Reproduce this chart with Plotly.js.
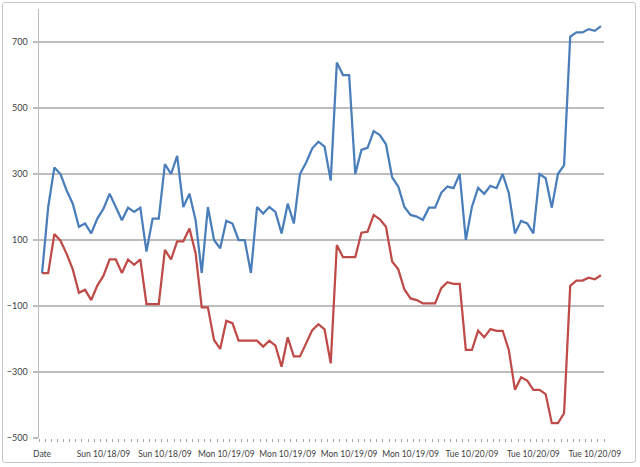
<!DOCTYPE html>
<html>
<head>
<meta charset="utf-8">
<script src="https://cdn.plot.ly/plotly-3.0.1.min.js"></script>
<style>
  html, body { margin: 0; padding: 0; background: #ffffff; }
  #wrap { position: relative; width: 640px; height: 467px; overflow: hidden; }
  #frame {
    position: absolute; left: 2px; top: 2px; width: 634px; height: 461px;
    border: 1px solid #c4c8cc; border-radius: 3px; box-sizing: border-box;
    pointer-events: none;
  }
  #chart { position: absolute; left: 0; top: 0; width: 640px; height: 467px; }
</style>
</head>
<body>
<div id="wrap">
  <div id="chart"></div>
  <div id="frame"></div>
</div>
<script>
// Category labels shown along the x axis (one every labelStep rows)
const xLabels = ['Date', 'Sun 10/18/09', 'Sun 10/18/09', 'Mon 10/19/09', 'Mon 10/19/09',
                 'Mon 10/19/09', 'Mon 10/19/09', 'Tue 10/20/09', 'Tue 10/20/09', 'Tue 10/20/09'];
const labelStep = 10;

// Series 1 (blue)
const seriesA = [
  0, 200, 320, 300, 250, 210, 140, 150, 120, 165,
  195, 240, 200, 160, 198, 185, 198, 65, 165, 165,
  330, 300, 355, 200, 240, 160, 0, 200, 100, 75,
  158, 150, 100, 100, 0, 200, 180, 200, 185, 120,
  210, 150, 300, 335, 378, 398, 383, 280, 638, 600,
  600, 300, 373, 379, 430, 418, 390, 290, 262, 200,
  176, 171, 161, 198, 198, 243, 262, 257, 300, 100,
  201, 258, 240, 264, 257, 300, 242, 120, 158, 150,
  120, 300, 287, 198, 300, 327, 716, 729, 729, 739,
  734, 748
];

// Series 2 (red)
const seriesB = [
  0, 0, 118, 98, 58, 11, -60, -51, -82, -38,
  -8, 41, 41, 0, 41, 25, 41, -94, -94, -94,
  70, 41, 96, 96, 135, 60, -104, -104, -203, -230,
  -145, -152, -205, -205, -205, -205, -223, -205, -220, -284,
  -195, -253, -253, -213, -173, -155, -171, -274, 85, 48,
  48, 48, 122, 125, 176, 163, 140, 35, 11, -50,
  -77, -82, -92, -92, -92, -46, -28, -33, -33, -233,
  -233, -175, -195, -170, -175, -175, -233, -354, -316, -326,
  -354, -354, -367, -455, -455, -425, -39, -23, -23, -14,
  -19, -7
];

// Y axis tick layout
const yMin = -500, yMax = 800, yStep = 200;

const rowIndex = seriesA.map((_, i) => i);
const slotCount = seriesA.length + 1;

const traces = [
  { x: rowIndex, y: seriesA, type: 'scatter', mode: 'lines',
    line: { color: '#4A7EBB', width: 2.25 }, hoverinfo: 'skip' },
  { x: rowIndex, y: seriesB, type: 'scatter', mode: 'lines',
    line: { color: '#BE4B48', width: 2.25 }, hoverinfo: 'skip' }
];

const gridGray = '#bcbcbc';
const fontFamily = 'Lato, "Open Sans", sans-serif';

const layout = {
  width: 640, height: 467,
  margin: { l: 39, r: 36, t: 9, b: 29 },
  paper_bgcolor: '#ffffff', plot_bgcolor: '#ffffff',
  showlegend: false,
  xaxis: {
    type: 'linear',
    range: [-0.5, slotCount - 1.5],
    tickmode: 'array',
    tickvals: xLabels.map((_, i) => i * labelStep),
    ticktext: xLabels,
    tickangle: 0,
    ticks: '', showgrid: false, zeroline: false,
    showline: false,
    ticklabelstandoff: 9,
    tickfont: { family: fontFamily, size: 8.5, color: '#404040' },
    minor: { tickmode: 'linear', tick0: -0.5, dtick: 1, ticks: 'outside',
             ticklen: 3, tickcolor: '#a6a6a6', tickwidth: 1, showgrid: false }
  },
  yaxis: {
    range: [yMin, yMax],
    tickmode: 'linear', tick0: yMin, dtick: yStep,
    showgrid: true, gridcolor: gridGray, gridwidth: 1.5,
    zeroline: false,
    showline: true, linecolor: gridGray, linewidth: 1.5,
    ticks: 'outside', ticklen: 5, tickcolor: gridGray, tickwidth: 1.5,
    ticklabelstandoff: 3,
    tickfont: { family: fontFamily, size: 9, color: '#404040' }
  }
};

Plotly.newPlot('chart', traces, layout, { staticPlot: true, displayModeBar: false });
</script>
</body>
</html>
